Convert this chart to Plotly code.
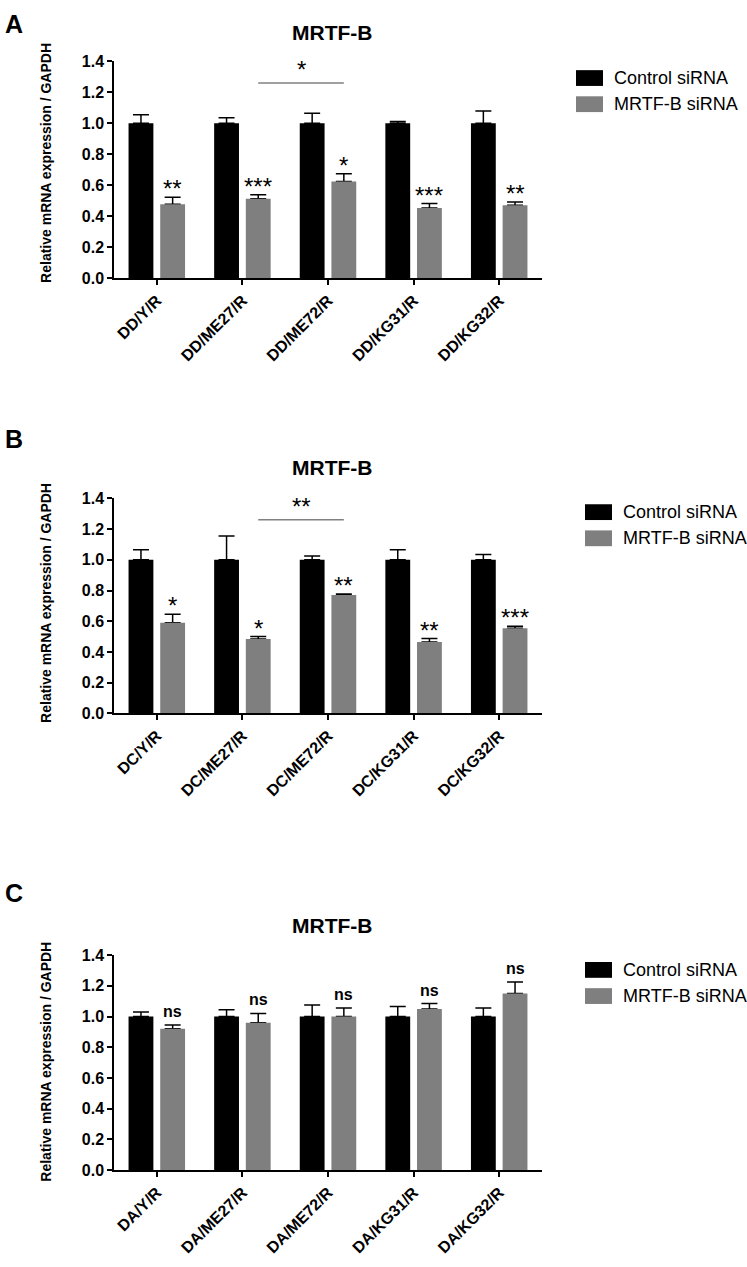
import plotly.graph_objects as go

W, H = 747, 1267
FONT = "Liberation Sans, Arial, sans-serif"

# ---- data ----
groups_a = ["DD/Y/R", "DD/ME27/R", "DD/ME72/R", "DD/KG31/R", "DD/KG32/R"]
ctrl_a = [1.0, 1.0, 1.0, 1.0, 1.0]
ctrl_err_a = [0.055, 0.035, 0.065, 0.012, 0.08]
sirna_a = [0.478, 0.514, 0.625, 0.454, 0.472]
sirna_err_a = [0.045, 0.025, 0.05, 0.028, 0.02]
sig_a = ["**", "***", "*", "***", "**"]
bracket_a = [1, 2, "*"]

groups_b = ["DC/Y/R", "DC/ME27/R", "DC/ME72/R", "DC/KG31/R", "DC/KG32/R"]
ctrl_b = [1.0, 1.0, 1.0, 1.0, 1.0]
ctrl_err_b = [0.065, 0.155, 0.025, 0.065, 0.035]
sirna_b = [0.59, 0.485, 0.77, 0.465, 0.555]
sirna_err_b = [0.055, 0.015, 0.008, 0.022, 0.012]
sig_b = ["*", "*", "**", "**", "***"]
bracket_b = [1, 2, "**"]

groups_c = ["DA/Y/R", "DA/ME27/R", "DA/ME72/R", "DA/KG31/R", "DA/KG32/R"]
ctrl_c = [1.0, 1.0, 1.0, 1.0, 1.0]
ctrl_err_c = [0.03, 0.045, 0.075, 0.065, 0.055]
sirna_c = [0.92, 0.96, 1.0, 1.05, 1.15]
sirna_err_c = [0.025, 0.06, 0.055, 0.035, 0.075]
sig_c = ["ns", "ns", "ns", "ns", "ns"]
bracket_c = None

series_names = ["Control siRNA", "MRTF-B siRNA"]
y_ticks = [0.0, 0.2, 0.4, 0.6, 0.8, 1.0, 1.2, 1.4]
BRACKET_Y = 1.26

# ---- layout (pixel positions) ----
panels = [
    dict(letter="A", top=54, bottom=274, letter_y=16, title_y=25, leg_x=576, leg_y=63, ytitle_y=157,
         groups=groups_a, ctrl=ctrl_a, ctrl_err=ctrl_err_a, sirna=sirna_a,
         sirna_err=sirna_err_a, sig=sig_a, bracket=bracket_a),
    dict(letter="B", top=497, bottom=715, letter_y=437, title_y=466, leg_x=585, leg_y=503, ytitle_y=603,
         groups=groups_b, ctrl=ctrl_b, ctrl_err=ctrl_err_b, sirna=sirna_b,
         sirna_err=sirna_err_b, sig=sig_b, bracket=bracket_b),
    dict(letter="C", top=960, bottom=1178, letter_y=897, title_y=930, leg_x=585, leg_y=967, ytitle_y=1068,
         groups=groups_c, ctrl=ctrl_c, ctrl_err=ctrl_err_c, sirna=sirna_c,
         sirna_err=sirna_err_c, sig=sig_c, bracket=bracket_c),
]

X_LEFT, X_RIGHT = 114, 542
BAR_W = 0.29
OFF_CTRL, OFF_SI = -0.33, 0.04
COLORS = ["#000000", "#7f7f7f"]


def px(x):
    return x / W


def py(y):
    return 1 - y / H


fig = go.Figure()
shapes = []
annotations = []

for k, p in enumerate(panels):
    sfx = "" if k == 0 else str(k + 1)
    xa, ya = "x" + sfx, "y" + sfx

    # error bars first (transparent bars), real bars on top hide the lower cap
    for vals, errs, off in [(p["ctrl"], p["ctrl_err"], OFF_CTRL), (p["sirna"], p["sirna_err"], OFF_SI)]:
        fig.add_trace(go.Bar(
            x=p["groups"], y=vals, width=BAR_W, offset=off,
            marker=dict(color="rgba(0,0,0,0)", line_width=0),
            error_y=dict(type="data", array=errs, arrayminus=[0] * len(errs), symmetric=False,
                         color="black", thickness=1.5, width=8),
            xaxis=xa, yaxis=ya, showlegend=False, hoverinfo="skip"))
    for vals, off, col, name in [(p["ctrl"], OFF_CTRL, COLORS[0], series_names[0]),
                                 (p["sirna"], OFF_SI, COLORS[1], series_names[1])]:
        fig.add_trace(go.Bar(
            x=p["groups"], y=vals, width=BAR_W, offset=off, name=name,
            marker=dict(color=col, line_width=0),
            xaxis=xa, yaxis=ya, showlegend=False))

    fig.layout["xaxis" + sfx] = dict(
        domain=[px(X_LEFT), px(X_RIGHT)], anchor=ya, type="category", range=[-0.5, 4.5],
        showline=True, linecolor="black", linewidth=1.5, ticks="outside", ticklen=5,
        tickwidth=1.5, tickcolor="black", tickangle=-45, showgrid=False, zeroline=False,
        tickfont=dict(family=FONT, size=16, color="black", weight="bold"))
    fig.layout["yaxis" + sfx] = dict(
        domain=[py(p["bottom"]), py(p["top"])], anchor=xa, range=[0, 1.4],
        tickvals=y_ticks, tickformat=".1f", showline=True, linecolor="black", linewidth=1.5,
        ticks="outside", ticklen=5, tickwidth=1.5, tickcolor="black", showgrid=False,
        zeroline=False, tickfont=dict(family=FONT, size=16, color="black", weight="bold"))

    # significance marks above the siRNA bars
    for i, s in enumerate(p["sig"]):
        ns = s == "ns"
        annotations.append(dict(
            x=i + OFF_SI + BAR_W / 2, y=p["sirna"][i] + p["sirna_err"][i], xref=xa, yref=ya,
            text=s, showarrow=False, yanchor="bottom", yshift=3 if ns else -7,
            font=dict(family=FONT, size=16 if ns else 24, color="black",
                      weight="bold" if ns else "normal")))

    if p["bracket"]:
        i0, i1, s = p["bracket"]
        shapes.append(dict(type="line", xref=xa, yref=ya,
                           x0=i0 + OFF_SI + BAR_W / 2, x1=i1 + OFF_SI + BAR_W / 2,
                           y0=BRACKET_Y, y1=BRACKET_Y, line=dict(color="#808080", width=1.5)))
        annotations.append(dict(
            x=(i0 + i1) / 2 + OFF_SI + BAR_W / 2, y=BRACKET_Y, xref=xa, yref=ya, text=s,
            showarrow=False, yanchor="bottom", yshift=-2,
            font=dict(family=FONT, size=24, color="black")))

    # titles and labels
    annotations.append(dict(x=px(332), y=py(p["title_y"]), xref="paper", yref="paper",
                            text="MRTF-B", showarrow=False, xanchor="center", yanchor="middle",
                            font=dict(family=FONT, size=21, color="black", weight="bold")))
    annotations.append(dict(x=px(3), y=py(p["letter_y"]), xref="paper", yref="paper",
                            text=p["letter"], showarrow=False, xanchor="left", yanchor="middle",
                            font=dict(family=FONT, size=25, color="black", weight="bold")))
    annotations.append(dict(x=px(46), y=py(p["ytitle_y"]), xref="paper", yref="paper",
                            text="Relative mRNA expression / GAPDH", showarrow=False,
                            textangle=-90, xanchor="center", yanchor="middle",
                            font=dict(family=FONT, size=14, color="black", weight="bold")))

    # legend drawn by hand (big swatches like the original)
    for j, name in enumerate(series_names):
        top = p["leg_y"] + j * 26.5
        shapes.append(dict(type="rect", xref="paper", yref="paper",
                           x0=px(p["leg_x"]), x1=px(p["leg_x"] + 27),
                           y0=py(top + 16), y1=py(top), fillcolor=COLORS[j], line_width=0))
        annotations.append(dict(x=px(p["leg_x"] + 36), y=py(top + 8), xref="paper",
                                yref="paper", text=name, showarrow=False, xanchor="left",
                                yanchor="middle",
                                font=dict(family=FONT, size=18, color="black")))

fig.update_layout(
    width=W, height=H, margin=dict(l=0, r=0, t=0, b=0),
    paper_bgcolor="white", plot_bgcolor="white", barmode="overlay",
    shapes=shapes, annotations=annotations, showlegend=False,
    font=dict(family=FONT, color="black"))

fig.write_html("out.html", config={"displayModeBar": False},
               post_script="document.body.style.margin='0';"
               "document.body.style.overflow='hidden';")
